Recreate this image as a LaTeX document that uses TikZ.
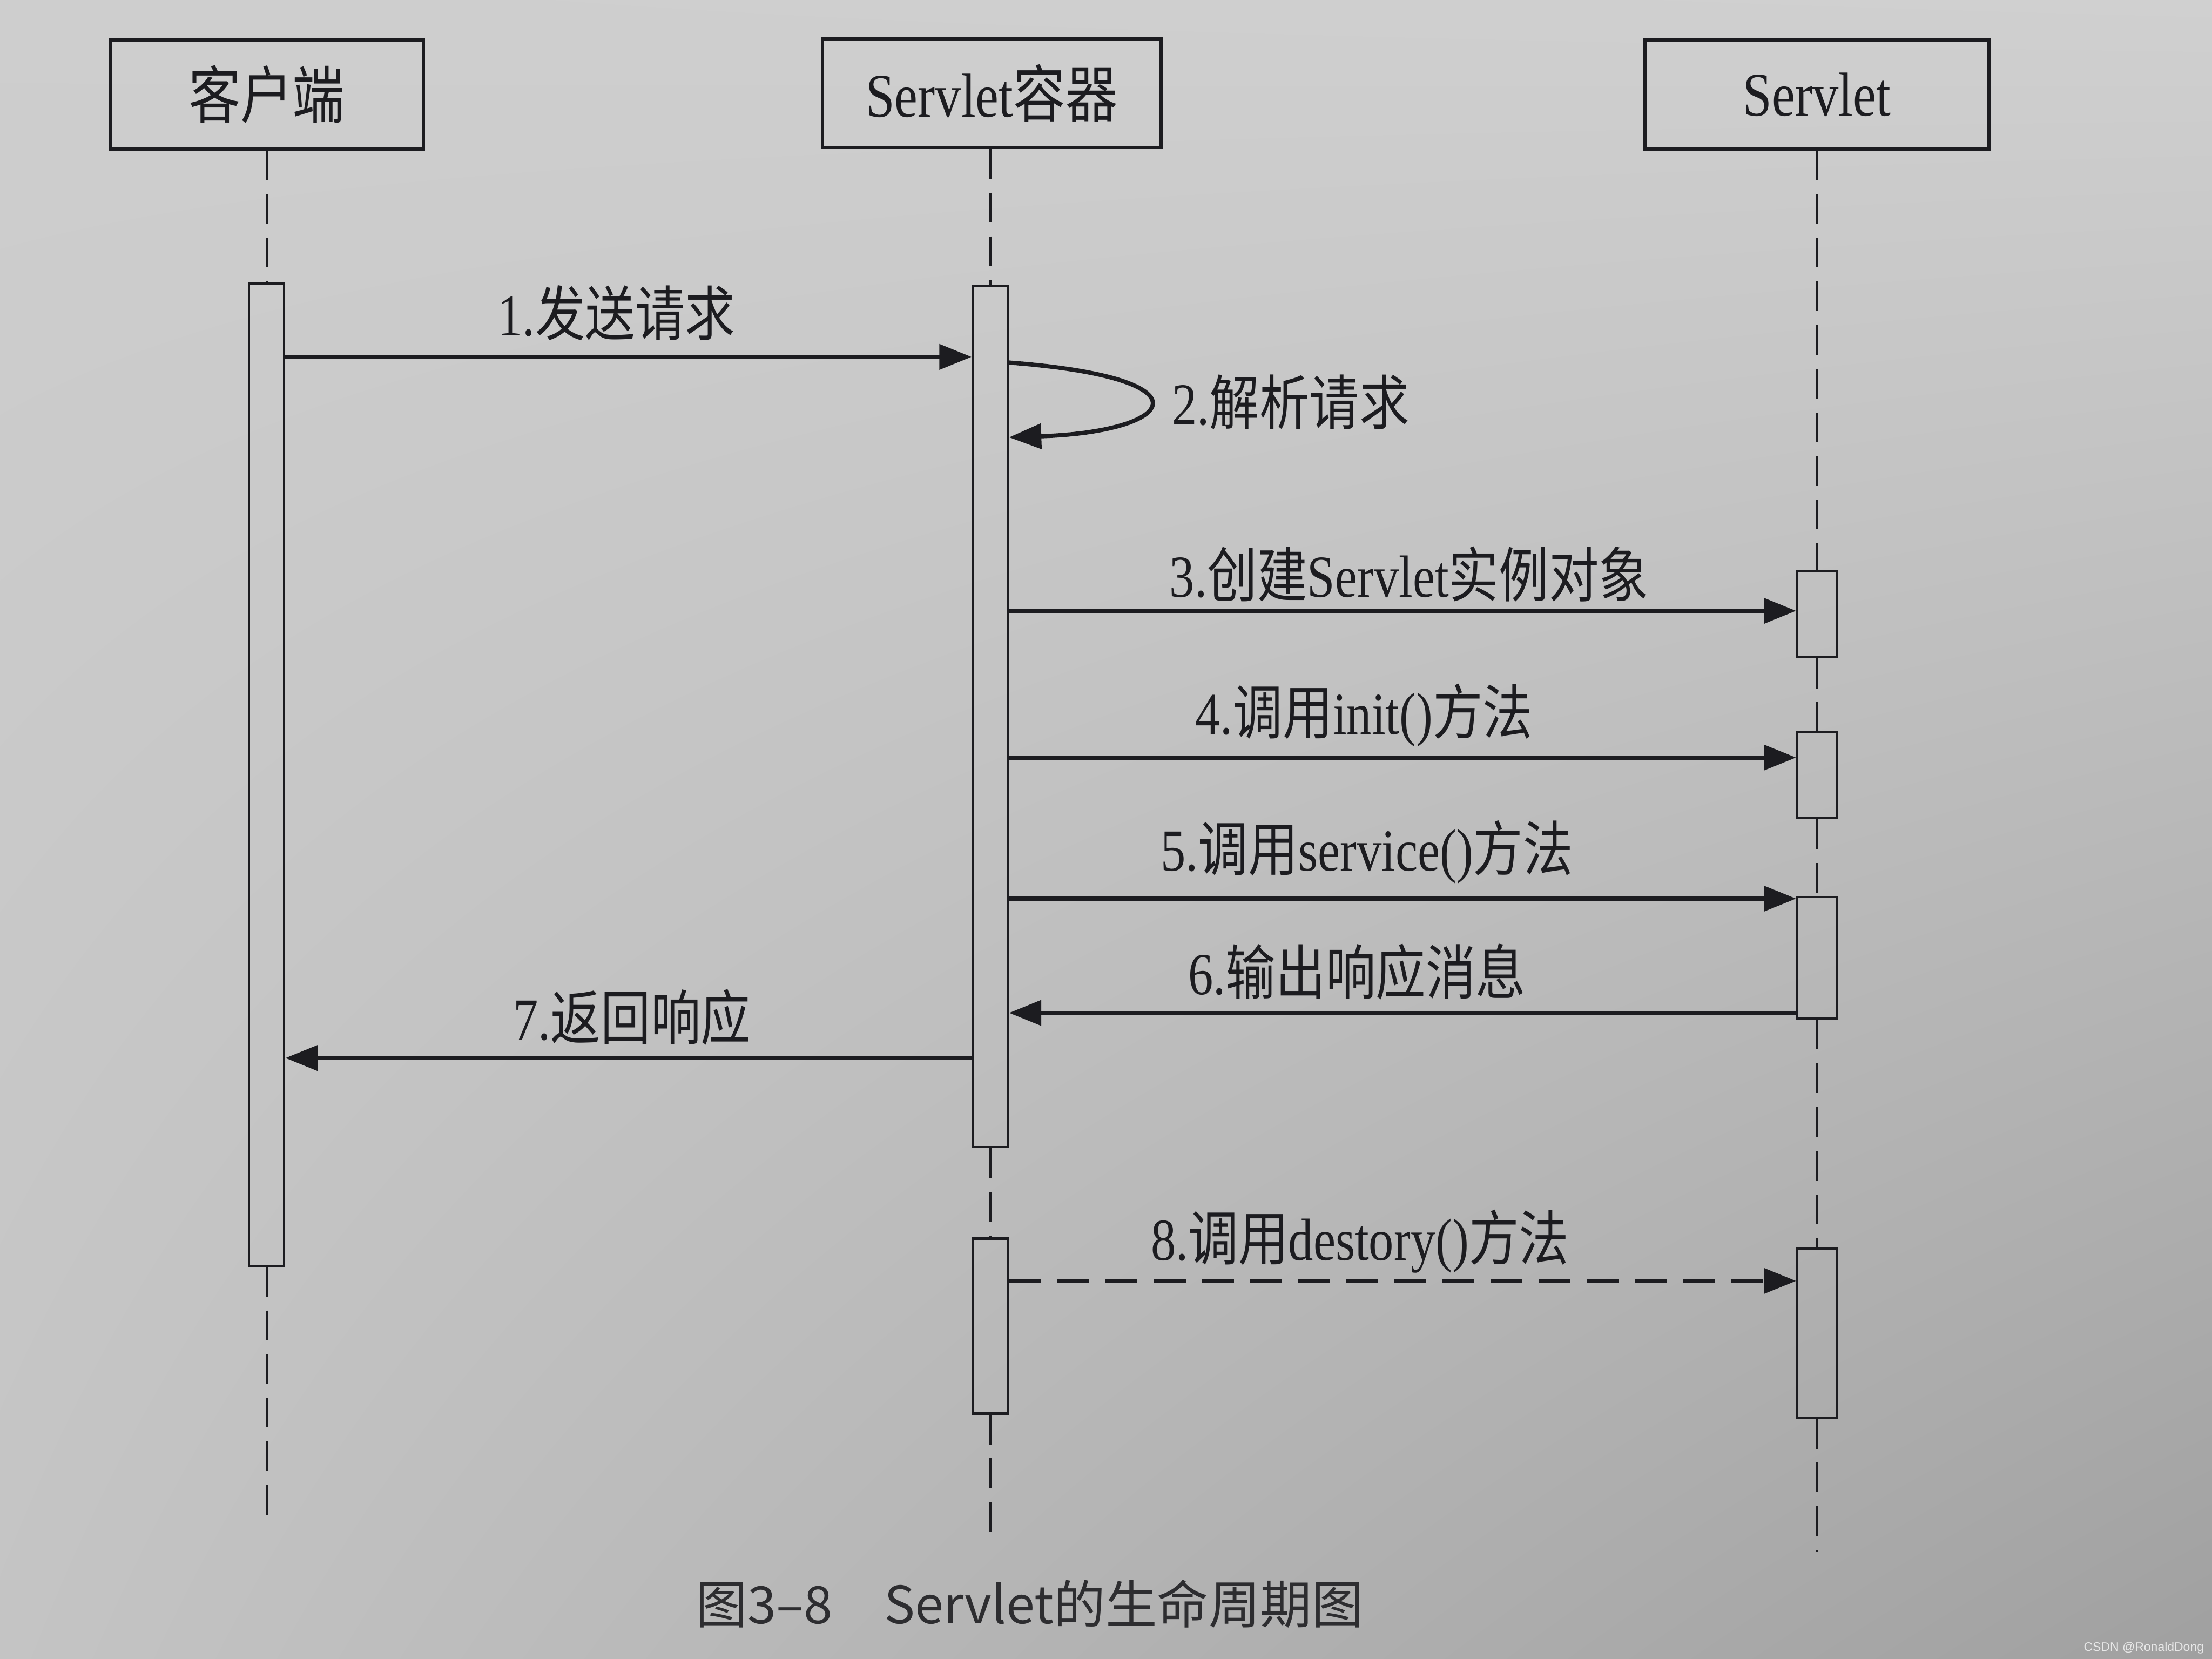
\documentclass[tikz,border=0pt]{standalone}
\usepackage{fontspec}
\usepackage{graphicx}
\setmainfont{Liberation Serif}
\newfontfamily\cjk{Noto Sans CJK SC}
\newfontfamily\capfont{Noto Sans CJK SC}
\newfontfamily\wmfont{Liberation Sans}
\usetikzlibrary{arrows.meta,shadings}
\definecolor{ink}{RGB}{28,28,32}
\definecolor{capgray}{RGB}{45,45,48}
\definecolor{wmcol}{RGB}{232,232,232}
\definecolor{bgul}{RGB}{206,206,206}
\definecolor{bgur}{RGB}{208,208,208}
\definecolor{bgll}{RGB}{196,196,196}
\definecolor{bglr}{RGB}{160,160,160}
\newcommand{\sqz}[1]{\scalebox{0.84}[1]{#1}}
\begin{document}
\begin{tikzpicture}[x=0.01cm,y=-0.01cm,
  actor/.style={draw=ink, line width=0.65pt, minimum width=#1, minimum height=0.77cm,
    inner sep=0pt, text=ink, font=\fontsize{12.5}{14}\selectfont},
  bar/.style={draw=ink, line width=0.45pt, minimum width=#1, inner sep=0pt},
  life/.style={draw=ink, line width=0.45pt, dash pattern=on 6pt off 2.8pt},
  msg/.style={draw=ink, line width=0.85pt, -{Triangle[length=6.5pt,width=5pt]}},
  dmsg/.style={msg, dash pattern=on 6.5pt off 3.2pt},
  lab/.style={text=ink, inner sep=0pt, font=\fontsize{12}{14}\selectfont}]
\useasboundingbox (0,0) rectangle (1568,1176);
\shade[upper left=bgul, upper right=bgur, lower left=bgll, lower right=bglr] (0,0) rectangle (1568,1176);

% actors
\node[actor=2.22cm] (cl) at (189,67) {\sqz{\cjk 客户端}};
\node[actor=2.40cm] (ct) at (703,66) {\sqz{Servlet{\cjk 容器}}};
\node[actor=2.44cm] (sv) at (1288,67) {\sqz{Servlet}};

% activation bars
\node[bar=0.25cm, minimum height=6.96cm] (clb) at (189,549) {};
\node[bar=0.25cm, minimum height=6.10cm] (ctb1) at (702,508) {};
\node[bar=0.25cm, minimum height=1.24cm] (ctb2) at (702,940) {};
\node[bar=0.28cm, minimum height=0.61cm] (svA) at (1288,435.5) {};
\node[bar=0.28cm, minimum height=0.61cm] (svB) at (1288,549.5) {};
\node[bar=0.28cm, minimum height=0.86cm] (svC) at (1288,679) {};
\node[bar=0.28cm, minimum height=1.20cm] (svD) at (1288,945) {};

% lifeline ends
\coordinate (clend) at (189,1080);
\coordinate (ctend) at (702,1090);
\coordinate (svend) at (1288,1100);

% lifelines
\draw[life] (cl.south) -- (clb.north);
\draw[life] (clb.south) -- (clend);
\draw[life] (ct.south -| ctb1.north) -- (ctb1.north);
\draw[life] (ctb1.south) -- (ctb2.north);
\draw[life] (ctb2.south) -- (ctend);
\draw[life] (sv.south) -- (svA.north);
\draw[life] (svA.south) -- (svB.north);
\draw[life] (svB.south) -- (svC.north);
\draw[life] (svC.south) -- (svD.north);
\draw[life] (svD.south) -- (svend);

% messages
\draw[msg] (clb.east |- 0,253) -- (ctb1.west |- 0,253);
\draw[msg] (ctb1.east |- 0,257) .. controls (860,268) and (835,306) .. (ctb1.east |- 0,310);
\draw[msg] (ctb1.east |- 0,433) -- (svA.west |- 0,433);
\draw[msg] (ctb1.east |- 0,537) -- (svB.west |- 0,537);
\draw[msg] (ctb1.east |- 0,637) -- (svC.west |- 0,637);
\draw[msg] (svC.west |- 0,718) -- (ctb1.east |- 0,718);
\draw[msg] (ctb1.west |- 0,750) -- (clb.east |- 0,750);
\draw[dmsg] (ctb2.east |- 0,908) -- (svD.west |- 0,908);

% labels
\node[lab] (l1) at (437,222) {\sqz{1.{\cjk 发送请求}}};
\node[lab, anchor=west] (l2) at (830,285) {\sqz{2.{\cjk 解析请求}}};
\node[lab] (l3) at (999,407) {\sqz{3.{\cjk 创建}Servlet{\cjk 实例对象}}};
\node[lab] (l4) at (967,507) {\sqz{4.{\cjk 调用}init(){\cjk 方法}}};
\node[lab] (l5) at (969,604) {\sqz{5.{\cjk 调用}service(){\cjk 方法}}};
\node[lab] (l6) at (962,689) {\sqz{6.{\cjk 输出响应消息}}};
\node[lab] (l7) at (448,721) {\sqz{7.{\cjk 返回响应}}};
\node[lab] (l8) at (964,880) {\sqz{8.{\cjk 调用}destory(){\cjk 方法}}};

% caption and watermark
\node[text=capgray, inner sep=0pt, font=\capfont\fontsize{10.4}{12}\selectfont] (cap) at (730,1137)
  {图3–8\hspace{1em}Servlet的生命周期图};
\node[anchor=east, inner sep=0pt, text=wmcol, font=\wmfont\fontsize{2.5}{3}\selectfont] (wm) at (1563,1168)
  {CSDN @RonaldDong};
\end{tikzpicture}
\end{document}
